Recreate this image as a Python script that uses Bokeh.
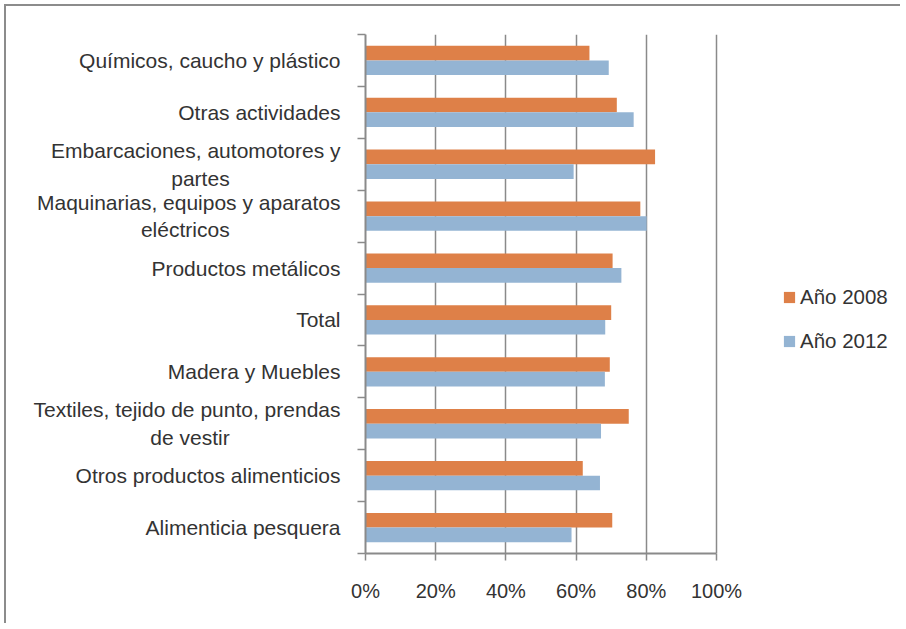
from bokeh.plotting import figure
from bokeh.models import (Range1d, FixedTicker, PrintfTickFormatter, Legend, LegendItem,
                          ColumnDataSource)
from bokeh.embed import file_html
from bokeh.resources import INLINE

# ---- data (top to bottom as displayed) ----
NB = "\u00a0" * 19  # keeps the wrapped second line visually centred
categories = [
    "Químicos, caucho y plástico",
    "Otras actividades",
    "Embarcaciones, automotores y\npartes" + NB,
    "Maquinarias, equipos y aparatos\neléctricos" + NB,
    "Productos metálicos",
    "Total",
    "Madera y Muebles",
    "Textiles, tejido de punto, prendas\nde vestir" + NB,
    "Otros productos alimenticios",
    "Alimenticia pesquera",
]
anio_2008 = [63.8, 71.6, 82.5, 78.3, 70.4, 70.0, 69.6, 75.0, 61.9, 70.3]
anio_2012 = [69.3, 76.4, 59.3, 80.1, 72.9, 68.3, 68.2, 67.1, 66.8, 58.7]
series_names = ["Año 2008", "Año 2012"]
x_ticks = [0, 20, 40, 60, 80, 100]

n = len(categories)
centers = [n - i - 0.5 for i in range(n)]
bar_h = 0.282
off = 0.141

FONT = "Liberation Sans"
TXT = "#333333"
GRID = "#8a8a8a"
ORANGE = "#DE8048"
BLUE = "#94B4D3"

W, H = 896, 619
ML, MT, MR, MB = 359, 28, 6, 72
frame_w = W - ML - MR
x_end = 100.0 * frame_w / 351.0  # frame extends right so the legend sits inside it

p = figure(width=W, height=H, output_backend="svg", toolbar_location=None,
           x_range=Range1d(0, x_end), y_range=Range1d(0, n),
           min_border_left=ML, min_border_top=MT, min_border_right=MR,
           min_border_bottom=MB)
p.styles = {"margin-left": "4px", "margin-top": "4px",
            "border-top": "2px solid #8c8c8c", "border-left": "2px solid #8c8c8c"}
p.outline_line_color = None
p.background_fill_color = "white"
p.border_fill_color = "white"

src08 = ColumnDataSource(dict(y=[c + off for c in centers], v=anio_2008))
src12 = ColumnDataSource(dict(y=[c - off for c in centers], v=anio_2012))
r08 = p.hbar(y="y", left=0, right="v", height=bar_h, source=src08,
             fill_color=ORANGE, line_color=None)
r12 = p.hbar(y="y", left=0, right="v", height=bar_h, source=src12,
             fill_color=BLUE, line_color=None)

# x axis
xa = p.xaxis[0]
xa.bounds = (0, 100)
xa.ticker = FixedTicker(ticks=x_ticks)
xa.formatter = PrintfTickFormatter(format="%d%%")
xa.axis_line_color = GRID
xa.axis_line_width = 2
xa.major_tick_line_color = GRID
xa.major_tick_line_width = 1.5
xa.major_tick_in = 0
xa.major_tick_out = 7
xa.minor_tick_line_color = None
xa.major_label_standoff = 19
xa.major_label_text_font = FONT
xa.major_label_text_font_size = "20px"
xa.major_label_text_color = TXT

# y axis
ya = p.yaxis[0]
ya.ticker = FixedTicker(ticks=centers, minor_ticks=list(range(n + 1)))
ya.major_label_overrides = {c: lab for c, lab in zip(centers, categories)}
ya.axis_line_color = GRID
ya.axis_line_width = 2
ya.major_tick_line_color = None
ya.major_tick_in = 0
ya.major_tick_out = 0
ya.minor_tick_line_color = GRID
ya.minor_tick_line_width = 1.5
ya.minor_tick_in = 0
ya.minor_tick_out = 8
ya.major_label_standoff = 17
ya.major_label_text_font = FONT
ya.major_label_text_font_size = "21px"
ya.major_label_text_color = TXT

# grid
p.xgrid.ticker = FixedTicker(ticks=x_ticks)
p.xgrid.bounds = (0, 100)
p.xgrid.grid_line_color = GRID
p.xgrid.grid_line_width = 1.5
p.ygrid.grid_line_color = None

legend = Legend(items=[LegendItem(label=series_names[0], renderers=[r08]),
                       LegendItem(label=series_names[1], renderers=[r12])],
                location=(417, 200), orientation="vertical",
                glyph_width=14, glyph_height=14, label_height=24,
                label_standoff=4, spacing=20, padding=0, margin=0,
                border_line_color=None, background_fill_alpha=0,
                label_text_font=FONT, label_text_font_size="20.5px",
                label_text_color=TXT)
p.add_layout(legend, "center")

open("out.html", "w").write(file_html(p, INLINE))
